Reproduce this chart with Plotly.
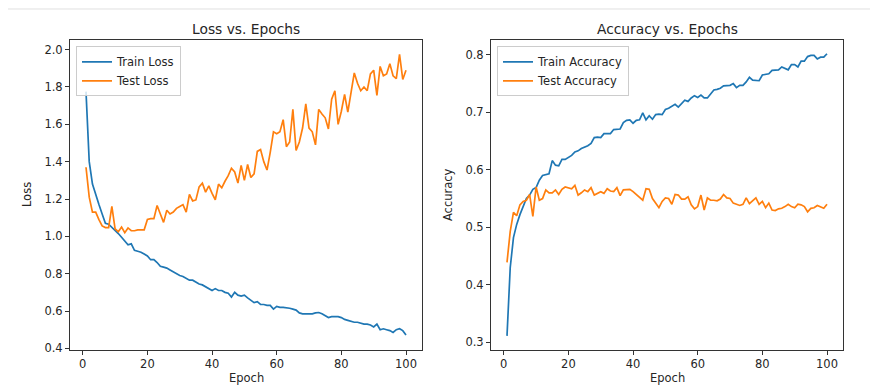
import plotly.graph_objects as go

epochs = list(range(1, 101))

train_loss = [
    1.775, 1.40, 1.28, 1.22, 1.17, 1.12, 1.07, 1.065, 1.05, 1.035,
    1.015, 0.995, 0.975, 0.955, 0.96, 0.925, 0.92, 0.915, 0.905, 0.895,
    0.875, 0.875, 0.86, 0.84, 0.835, 0.83, 0.82, 0.81, 0.80, 0.79,
    0.785, 0.775, 0.765, 0.765, 0.755, 0.745, 0.74, 0.73, 0.72, 0.71,
    0.72, 0.71, 0.71, 0.70, 0.695, 0.675, 0.70, 0.685, 0.68, 0.685,
    0.67, 0.655, 0.645, 0.65, 0.635, 0.635, 0.63, 0.63, 0.61, 0.625,
    0.62, 0.62, 0.618, 0.615, 0.61, 0.605, 0.59, 0.585, 0.585, 0.585,
    0.585, 0.59, 0.592, 0.585, 0.575, 0.565, 0.57, 0.57, 0.57, 0.565,
    0.555, 0.55, 0.545, 0.54, 0.54, 0.535, 0.53, 0.53, 0.525, 0.515,
    0.53, 0.50, 0.505, 0.50, 0.495, 0.485, 0.50, 0.505, 0.495, 0.472,
]

test_loss = [
    1.37, 1.21, 1.13, 1.13, 1.09, 1.056, 1.047, 1.047, 1.16, 1.04,
    1.025, 1.05, 1.02, 1.045, 1.03, 1.03, 1.035, 1.035, 1.035, 1.09,
    1.095, 1.095, 1.165, 1.12, 1.075, 1.14, 1.12, 1.13, 1.15, 1.16,
    1.17, 1.13, 1.225, 1.19, 1.195, 1.265, 1.285, 1.237, 1.27, 1.23,
    1.196, 1.28, 1.26, 1.295, 1.325, 1.365, 1.345, 1.285, 1.38, 1.30,
    1.385, 1.315, 1.335, 1.455, 1.465, 1.40, 1.355, 1.45, 1.56, 1.55,
    1.56, 1.625, 1.48, 1.505, 1.68, 1.46, 1.505, 1.58, 1.71, 1.58,
    1.56, 1.49, 1.68, 1.655, 1.635, 1.575, 1.735, 1.78, 1.60, 1.67,
    1.76, 1.665, 1.77, 1.875, 1.82, 1.78, 1.80, 1.78, 1.87, 1.89,
    1.755, 1.91, 1.86, 1.87, 1.925, 1.86, 1.845, 1.975, 1.84, 1.89,
]

train_acc = [
    0.311, 0.43, 0.482, 0.505, 0.522, 0.536, 0.55, 0.556, 0.566, 0.569,
    0.582, 0.59, 0.591, 0.593, 0.616, 0.608, 0.607, 0.618, 0.618, 0.622,
    0.625, 0.631, 0.633, 0.637, 0.639, 0.642, 0.646, 0.656, 0.657, 0.656,
    0.663, 0.663, 0.663, 0.67, 0.671, 0.671, 0.682, 0.686, 0.687, 0.681,
    0.686, 0.687, 0.699, 0.687, 0.694, 0.688, 0.696, 0.697, 0.696, 0.705,
    0.707, 0.71, 0.714, 0.709, 0.716, 0.721, 0.719, 0.725, 0.729, 0.726,
    0.73, 0.725, 0.725, 0.732, 0.739, 0.74, 0.742, 0.746, 0.746, 0.747,
    0.75, 0.743, 0.747, 0.747, 0.753, 0.761, 0.756, 0.755, 0.755, 0.765,
    0.766, 0.767, 0.773, 0.773, 0.774, 0.779, 0.777, 0.774, 0.783, 0.783,
    0.779, 0.789, 0.789, 0.797, 0.799, 0.799, 0.793, 0.796, 0.796, 0.802,
]

test_acc = [
    0.439, 0.493, 0.526, 0.52, 0.539, 0.545, 0.547, 0.557, 0.519, 0.57,
    0.547, 0.55, 0.565, 0.56, 0.56, 0.565, 0.557, 0.566, 0.57, 0.569,
    0.567, 0.573, 0.556, 0.56, 0.565, 0.562, 0.569, 0.556, 0.559, 0.562,
    0.559, 0.567, 0.563, 0.562, 0.569, 0.555, 0.565, 0.566, 0.566, 0.562,
    0.557, 0.553, 0.547, 0.567, 0.566, 0.55, 0.543, 0.534, 0.545, 0.551,
    0.55, 0.54, 0.557, 0.556, 0.549, 0.549, 0.553, 0.539, 0.532, 0.536,
    0.556, 0.53, 0.551, 0.547, 0.547, 0.546, 0.549, 0.557, 0.551, 0.55,
    0.542, 0.54, 0.538, 0.54, 0.551, 0.541, 0.546, 0.551, 0.54, 0.545,
    0.534, 0.542, 0.53, 0.529, 0.532, 0.533, 0.536, 0.54, 0.536, 0.534,
    0.54, 0.539, 0.536, 0.527, 0.533, 0.534, 0.538, 0.536, 0.533, 0.54,
]

titles = ["Loss vs. Epochs", "Accuracy vs. Epochs"]
x_label = "Epoch"
y_labels = ["Loss", "Accuracy"]
x_ticks = [0, 20, 40, 60, 80, 100]
loss_ticks = [0.4, 0.6, 0.8, 1.0, 1.2, 1.4, 1.6, 1.8, 2.0]
acc_ticks = [0.3, 0.4, 0.5, 0.6, 0.7, 0.8]

BLUE = "#1f77b4"
ORANGE = "#ff7f0e"
W, H = 878, 391
FONT = "DejaVu Sans"
TXT = "#262626"
FS = 11.5
FS_TITLE = 13.8

fig = go.Figure()
fig.add_trace(go.Scatter(x=epochs, y=train_loss, mode="lines", name="Train Loss",
                         line=dict(color=BLUE, width=1.7), xaxis="x", yaxis="y", legend="legend"))
fig.add_trace(go.Scatter(x=epochs, y=test_loss, mode="lines", name="Test Loss",
                         line=dict(color=ORANGE, width=1.7), xaxis="x", yaxis="y", legend="legend"))
fig.add_trace(go.Scatter(x=epochs, y=train_acc, mode="lines", name="Train Accuracy",
                         line=dict(color=BLUE, width=1.7), xaxis="x2", yaxis="y2", legend="legend2"))
fig.add_trace(go.Scatter(x=epochs, y=test_acc, mode="lines", name="Test Accuracy",
                         line=dict(color=ORANGE, width=1.7), xaxis="x2", yaxis="y2", legend="legend2"))

# pixel boxes of the two axes
L1, R1 = 62, 414
L2, R2 = 483, 835
TOP, BOT = 33, 347

def px_x(p):
    return p / W

def px_y(p):
    return 1 - p / H

axis_common = dict(
    showline=True, linecolor="#333333", linewidth=1, mirror=True,
    ticks="outside", ticklen=4, tickwidth=1, tickcolor="#333333",
    showgrid=False, zeroline=False,
    tickfont=dict(family=FONT, size=FS, color=TXT),
)

legend_common = dict(
    xanchor="left", yanchor="top",
    bgcolor="rgba(255,255,255,0.8)", bordercolor="#cccccc", borderwidth=1,
    font=dict(family=FONT, size=FS, color=TXT), tracegroupgap=0,
)

fig.update_layout(
    width=W, height=H,
    margin=dict(l=0, r=0, t=0, b=0),
    paper_bgcolor="white", plot_bgcolor="white",
    font=dict(family=FONT, size=FS, color=TXT),
    xaxis=dict(domain=[px_x(L1), px_x(R1)], range=[-3.95, 104.95], tickvals=x_ticks,
               anchor="y", **axis_common),
    yaxis=dict(domain=[px_y(BOT), px_y(TOP)], range=[0.393, 2.049], tickvals=loss_ticks,
               tickformat=".1f", anchor="x", **axis_common),
    xaxis2=dict(domain=[px_x(L2), px_x(R2)], range=[-3.95, 104.95], tickvals=x_ticks,
                anchor="y2", **axis_common),
    yaxis2=dict(domain=[px_y(BOT), px_y(TOP)], range=[0.287, 0.825], tickvals=acc_ticks,
                tickformat=".1f", anchor="x2", **axis_common),
    legend=dict(x=px_x(L1 + 6), y=px_y(TOP + 6), **legend_common),
    legend2=dict(x=px_x(L2 + 6), y=px_y(TOP + 6), **legend_common),
    showlegend=True,
)

annotations = []
for (l, r), t, yl in zip([(L1, R1), (L2, R2)], titles, y_labels):
    cx = (l + r) / 2
    annotations.append(dict(text=t, x=px_x(cx), y=px_y(21), xref="paper", yref="paper",
                            xanchor="center", yanchor="middle", showarrow=False,
                            font=dict(family=FONT, size=FS_TITLE, color=TXT)))
    annotations.append(dict(text=x_label, x=px_x(cx), y=px_y(376), xref="paper", yref="paper",
                            xanchor="center", yanchor="middle", showarrow=False,
                            font=dict(family=FONT, size=FS, color=TXT)))
    annotations.append(dict(text=yl, x=px_x(l - 43), y=px_y((TOP + BOT) / 2), xref="paper",
                            yref="paper", xanchor="center", yanchor="middle", showarrow=False,
                            textangle=-90, font=dict(family=FONT, size=FS, color=TXT)))
fig.update_layout(annotations=annotations)

fig.add_shape(type="line", xref="paper", yref="paper", x0=0, x1=1, y0=px_y(1), y1=px_y(1),
              line=dict(color="#e0e0e0", width=1))

fig.write_html("out.html")
